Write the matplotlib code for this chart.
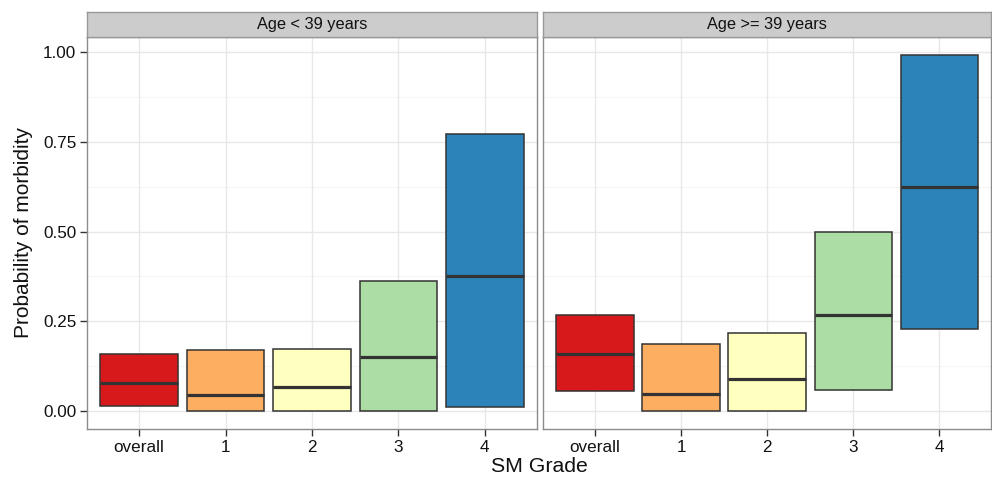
import matplotlib
matplotlib.use("Agg")
import matplotlib.pyplot as plt
import numpy as np

plt.rcParams['font.family'] = ['Liberation Sans', 'DejaVu Sans']

grades = ["overall", "1", "2", "3", "4"]
colors = ["#D7191C", "#FDAE61", "#FFFFBF", "#ABDDA4", "#2B83BA"]
panels = ["Age < 39 years", "Age >= 39 years"]

# crossbar values (lower, middle, upper) per age group
young_lower = [0.014, 0.000, 0.000, 0.000, 0.011]
young_mid   = [0.078, 0.044, 0.067, 0.150, 0.375]
young_upper = [0.158, 0.169, 0.172, 0.361, 0.772]

old_lower = [0.056, 0.000, 0.000, 0.058, 0.228]
old_mid   = [0.158, 0.047, 0.089, 0.269, 0.625]
old_upper = [0.269, 0.186, 0.219, 0.500, 0.992]

yticks = [0.0, 0.25, 0.5, 0.75, 1.0]
ytick_labels = ["0.00", "0.25", "0.50", "0.75", "1.00"]

W, H = 992, 479
fig = plt.figure(figsize=(W / 100, H / 100), dpi=100)

panel_top, panel_bot = 37, 429
strip_top = 11.5
boxes = [(87.3, 536.7), (543.3, 991.0)]
data = [(young_lower, young_mid, young_upper), (old_lower, old_mid, old_upper)]

edge = "#333333"
txt = "#111111"
x = np.arange(1, len(grades) + 1)
ylo, yhi = -0.0496, 1.0416

for i, ((x0, x1), (lo, mid, up), title) in enumerate(zip(boxes, data, panels)):
    ax = fig.add_axes([x0 / W, 1 - panel_bot / H, (x1 - x0) / W, (panel_bot - panel_top) / H])
    ax.set_xlim(0.4, 5.6)
    ax.set_ylim(ylo, yhi)
    ax.set_facecolor("white")
    # grid
    for yv in [0.125, 0.375, 0.625, 0.875]:
        ax.axhline(yv, color="#f5f5f5", lw=0.8, zorder=0)
    for yv in yticks:
        ax.axhline(yv, color="#e8e8e8", lw=1.0, zorder=0)
    for xv in x:
        ax.axvline(xv, color="#e8e8e8", lw=1.0, zorder=0)

    lo = np.array(lo); mid = np.array(mid); up = np.array(up)
    ax.bar(x, up - lo, bottom=lo, width=0.9, color=colors, edgecolor=edge,
           linewidth=1.1, zorder=2)
    ax.hlines(mid, x - 0.45, x + 0.45, color=edge, lw=2.3, zorder=3)

    for s in ax.spines.values():
        s.set_color("#8c8c8c")
        s.set_linewidth(1.0)

    ax.set_xticks(x)
    ax.set_xticklabels(grades, fontsize=12.3, color=txt)
    ax.set_yticks(yticks)
    if i == 0:
        ax.set_yticklabels(ytick_labels, fontsize=12.3, color=txt)
        ax.tick_params(axis="y", length=5, width=1, color="#333333", pad=3)
    else:
        ax.tick_params(axis="y", length=0, labelleft=False)
    ax.tick_params(axis="x", length=5, width=1, color="#333333", pad=3)

    # facet strip
    sax = fig.add_axes([x0 / W, 1 - panel_top / H, (x1 - x0) / W, (panel_top - strip_top) / H])
    sax.set_xlim(0, 1); sax.set_ylim(0, 1)
    sax.set_facecolor("#cccccc")
    for s in sax.spines.values():
        s.set_color("#999999")
        s.set_linewidth(1.0)
    sax.set_xticks([]); sax.set_yticks([])
    sax.text(0.5, 0.48, title, ha="center", va="center", fontsize=11.8, color=txt)

fig.text(539 / W, 1 - 467 / H, "SM Grade", ha="center", va="center", fontsize=15.3, color=txt)
fig.text(24 / W, 1 - 233 / H, "Probability of morbidity", ha="center", va="center",
         rotation=90, fontsize=15, color=txt)

fig.savefig("out.png", dpi=100)
